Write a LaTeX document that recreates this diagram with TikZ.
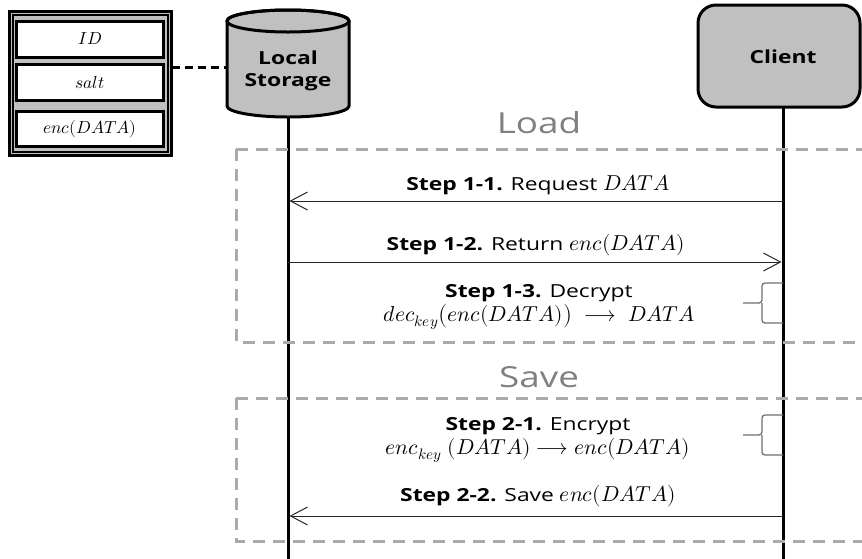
\documentclass[tikz,border=0pt]{standalone}
\usepackage{fontspec}
\usepackage{unicode-math}
\setmainfont{Open Sans}[FakeStretch=1.27]
\setmathfont{Latin Modern Math}[Scale=1.2]
\usetikzlibrary{arrows.meta}
\definecolor{boxgray}{RGB}{192,192,192}
\definecolor{dashgray}{RGB}{170,170,170}
\definecolor{titlegray}{RGB}{128,128,128}
\definecolor{bracegray}{RGB}{110,110,110}
\tikzset{
  recbox/.style={draw=black, line width=3pt, fill=white, font=\fontsize{14.5}{16}\selectfont},
  lifeline/.style={draw=black, line width=3pt},
  msg/.style={draw=black!85, line width=1pt, -{Straight Barb[length=17pt,width=18pt,line width=1pt]}},
  phase/.style={draw=dashgray, line width=3pt, dash pattern=on 12pt off 8pt},
  steptext/.style={font=\fontsize{18}{24}\selectfont, align=center, inner sep=0pt},
  phasetitle/.style={font=\fontsize{29}{34}\selectfont, text=titlegray, inner sep=0pt},
  bracestyle/.style={draw=bracegray, line width=1.3pt, rounded corners=3pt},
  headtext/.style={font=\bfseries\fontsize{18}{22}\selectfont, align=center, inner sep=0pt},
}
\begin{document}
\begin{tikzpicture}[x=1pt,y=-1pt]
\useasboundingbox (0,0) rectangle (862,558);

% record box
\draw[line width=3pt, fill=boxgray] (9.5,11.5) rectangle (171.5,155.5);
\draw[line width=1.2pt] (13,15) rectangle (168,152);
\node[recbox, minimum width=147pt, minimum height=36pt] (idb) at (90,39) {$ID$};
\node[recbox, minimum width=147pt, minimum height=36pt] (saltb) at (90,82.5) {$salt$};
\node[recbox, minimum width=147pt, minimum height=35pt] (encb) at (90,129) {$enc(DATA)$};

% local storage cylinder
\draw[line width=3pt, fill=boxgray]
  (227,21) -- (227,106) arc[start angle=180, end angle=0, x radius=61, y radius=11]
  -- (349,21) arc[start angle=0, end angle=-180, x radius=61, y radius=11] -- cycle;
\draw[line width=3pt] (288,21) ellipse[x radius=61, y radius=11];
\coordinate (lsbot) at (288,117);
\coordinate (lsleft) at (227,67);
\node[headtext] (lstext) at (288,71) {Local\\Storage};
\coordinate (recR) at (171.5,67);
\draw[line width=3pt, dash pattern=on 8pt off 5pt] (recR) -- (lsleft);

% client box
\node[draw=black, line width=3pt, fill=boxgray, rounded corners=18pt,
      minimum width=162pt, minimum height=102pt, inner sep=0pt] (cl) at (779,56) {};
\node[headtext] (cltext) at (783,57) {Client};

% lifelines
\coordinate (clbot) at (783,107);
\coordinate (lsend) at (288,560);
\coordinate (clend) at (783,560);
\draw[lifeline] (lsbot) -- (lsend);
\draw[lifeline] (clbot) -- (clend);

% phase boxes
\draw[phase] (236,149) -- (870,149);
\draw[phase] (236,149) -- (236,342) -- (870,342);
\draw[phase] (236,398) -- (870,398);
\draw[phase] (236,398) -- (236,541) -- (870,541);

\node[phasetitle] (load) at (539,123) {Load};
\node[phasetitle] (save) at (539,377) {Save};

% Step 1-1
\coordinate (c11) at (783,201);
\coordinate (l11) at (289.5,201);
\draw[msg] (c11) -- (l11);
\node[steptext] (t11) at (538,185) {\textbf{Step 1-1.} Request $DATA$};

% Step 1-2
\coordinate (l12) at (288,262);
\coordinate (c12) at (781.5,262);
\draw[msg] (l12) -- (c12);
\node[steptext] (t12) at (536,245) {\textbf{Step 1-2.} Return $enc(DATA)$};

% Step 1-3
\node[steptext] (t13) at (539,307) {\textbf{Step 1-3.} Decrypt\\ $dec_{key}\big(enc(DATA)\big)\;\longrightarrow\;DATA$};
\coordinate (b13t) at (783,283);
\coordinate (b13b) at (783,323);
\coordinate (b13m) at (743,303);
\draw[bracestyle] (b13t) -- (762,283) -- (762,303) -- (b13m);
\draw[bracestyle] (b13b) -- (762,323) -- (762,303);

% Step 2-1
\node[steptext] (t21) at (538,440) {\textbf{Step 2-1.} Encrypt\\ $enc_{key}\ (DATA)\longrightarrow enc(DATA)$};
\coordinate (b21t) at (783,415);
\coordinate (b21b) at (783,455);
\coordinate (b21m) at (743,435);
\draw[bracestyle] (b21t) -- (762,415) -- (762,435) -- (b21m);
\draw[bracestyle] (b21b) -- (762,455) -- (762,435);

% Step 2-2
\coordinate (c22) at (783,516);
\coordinate (l22) at (289.5,516);
\draw[msg] (c22) -- (l22);
\node[steptext] (t22) at (538,496) {\textbf{Step 2-2.} Save $enc(DATA)$};
\end{tikzpicture}
\end{document}
